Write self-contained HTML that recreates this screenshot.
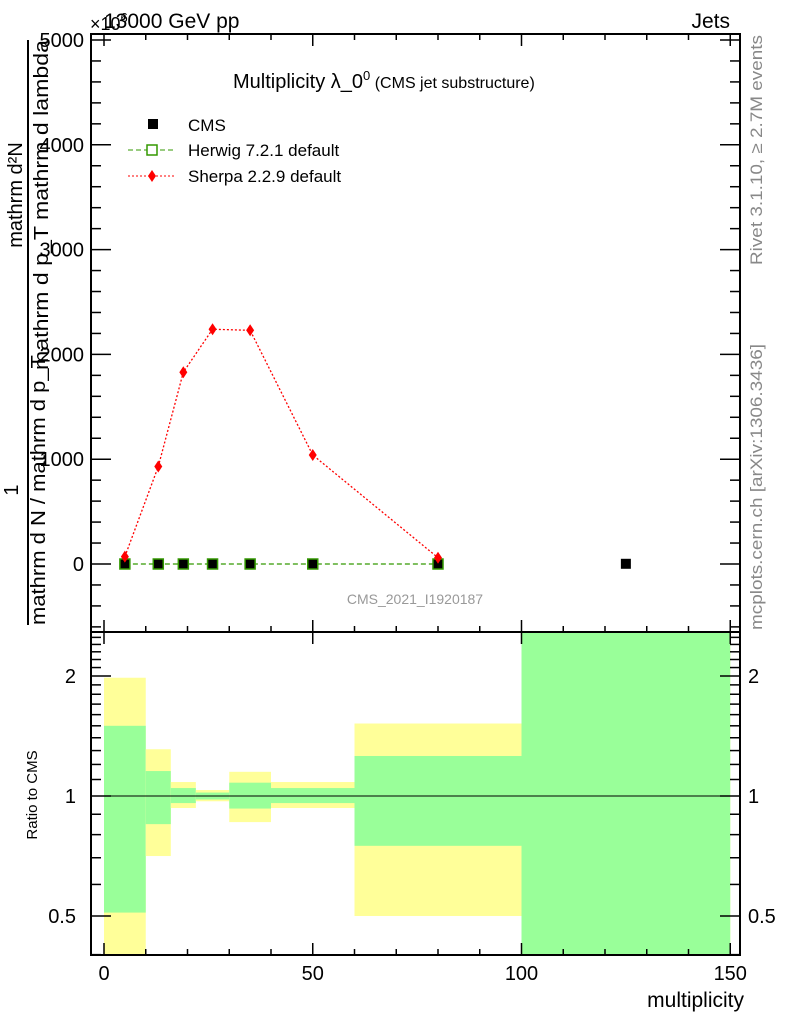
<!DOCTYPE html>
<html><head><meta charset="utf-8"><style>
html,body{margin:0;background:#fff;width:786px;height:1024px;overflow:hidden;position:relative}
svg{display:block;font-family:"Liberation Sans",sans-serif}
</style></head><body>
<svg id="c" width="786" height="1024" viewBox="0 0 786 1024" style="position:absolute;left:0;top:0"></svg>
<script>
const binEdges=[0,10,16,22,30,40,60,100,150];
const binCenters=[5,13,19,26,35,50,80,125];
const cmsValues=[2,2,2,2,2,2,2,2];
const herwigValues=[0,0,0,0,0,0,0];
const sherpaValues=[70,930,1830,2240,2230,1040,60];
const mainYTicks=[0,1000,2000,3000,4000,5000];
const mainYTickLabels=["0","1000","2000","3000","4000","5000"];
const xTicks=[0,50,100,150];
const ratioTicks=[0.5,1,2];
const yellowHi=[1.98,1.31,1.084,1.035,1.15,1.084,1.52,10];
const yellowLo=[0.3,0.707,0.933,0.97,0.86,0.933,0.5,0.1];
const greenHi=[1.5,1.155,1.047,1.02,1.08,1.047,1.26,10];
const greenLo=[0.51,0.85,0.96,0.98,0.93,0.96,0.75,0.1];

const NS="http://www.w3.org/2000/svg";
const svg=document.getElementById('c');
const L=91,R=740,MT=34,MB=632,RB=955;
const sx=v=>104+v*4.175;
const sy=v=>564-v*0.1048;
const ry=v=>796-Math.log2(v)*120;
function el(t,a,p){const e=document.createElementNS(NS,t);for(const k in a)e.setAttribute(k,a[k]);(p||svg).appendChild(e);return e;}
function txt(s,a,p){const e=el('text',a,p);e.textContent=s;return e;}

const clip=el('clipPath',{id:'rc'});el('rect',{x:L,y:MB,width:R-L,height:RB-MB},clip);
const bands=el('g',{'clip-path':'url(#rc)'});


for(let i=0;i<binEdges.length-1;i++){
  const x0=sx(binEdges[i]),x1=sx(binEdges[i+1]);
  const y=el('rect',{x:x0,y:ry(yellowHi[i]),width:x1-x0,height:ry(yellowLo[i])-ry(yellowHi[i]),fill:'#ffff99'},bands);
  
  
  const g=el('rect',{x:x0,y:ry(greenHi[i]),width:x1-x0,height:ry(greenLo[i])-ry(greenHi[i]),fill:'#99ff99'},bands);
  
  
}
el('line',{x1:L,x2:R,y1:ry(1),y2:ry(1),stroke:'#000','stroke-width':1});

el('rect',{x:L,y:MT,width:R-L,height:MB-MT,fill:'none',stroke:'#000','stroke-width':2});
el('rect',{x:L,y:MB,width:R-L,height:RB-MB,fill:'none',stroke:'#000','stroke-width':2});

for(let v=0;v<=150;v+=10){
  const x=sx(v),maj=v%50===0;
  el('line',{x1:x,x2:x,y1:MB,y2:MB-(maj?12:6),stroke:'#000','stroke-width':1.5});
  if(maj) el('line',{x1:x,x2:x,y1:MB,y2:MB+12,stroke:'#000','stroke-width':1.5});
  el('line',{x1:x,x2:x,y1:RB,y2:RB-(maj?12:6),stroke:'#000','stroke-width':1.5});
  el('line',{x1:x,x2:x,y1:MT,y2:MT+(maj?12:6),stroke:'#000','stroke-width':1.5});
}
xTicks.forEach(v=>{const t=txt(String(v),{x:sx(v),y:980,'font-size':20,'text-anchor':'middle'});
});

for(let v=-600;v<=5000;v+=200){
  const y=sy(v),maj=v%1000===0;const len=maj?20:10;
  el('line',{x1:L,x2:L+len,y1:y,y2:y,stroke:'#000','stroke-width':1.5});
  el('line',{x1:R,x2:R-len,y1:y,y2:y,stroke:'#000','stroke-width':1.5});
}
mainYTicks.forEach((v,i)=>{const t=txt(mainYTickLabels[i],{x:84,y:sy(v)+7,'font-size':20,'text-anchor':'end'});
});

for(let v=0.4;v<=2.6;v+=0.1){
  const vv=Math.round(v*10)/10;const y=ry(vv);const maj=ratioTicks.includes(vv);const len=maj?20:10;
  el('line',{x1:L,x2:L+len,y1:y,y2:y,stroke:'#000','stroke-width':1.5});
  el('line',{x1:R,x2:R-len,y1:y,y2:y,stroke:'#000','stroke-width':1.5});
}
ratioTicks.forEach(v=>{
  const a=txt(String(v),{x:76,y:ry(v)+7,'font-size':20,'text-anchor':'end'});
  
  const b=txt(String(v),{x:748,y:ry(v)+7,'font-size':20});
  
});

const hp=herwigValues.map((v,i)=>sx(binCenters[i])+','+sy(v)).join(' ');
const hl=el('polyline',{points:hp,fill:'none',stroke:'#339900','stroke-width':1.2,'stroke-dasharray':'5,3'});

const sp=sherpaValues.map((v,i)=>sx(binCenters[i])+','+sy(v)).join(' ');
const sl=el('polyline',{points:sp,fill:'none',stroke:'#ff0000','stroke-width':1.3,'stroke-dasharray':'2,2'});

cmsValues.forEach((v,i)=>{const x=sx(binCenters[i]),y=sy(v);
  const r=el('rect',{x:x-5,y:y-5,width:10,height:10,fill:'#000'});
  });
herwigValues.forEach((v,i)=>{const x=sx(binCenters[i]),y=sy(v);
  const r=el('rect',{x:x-5,y:y-5,width:10,height:10,fill:'none',stroke:'#339900','stroke-width':1.5});
  });
sherpaValues.forEach((v,i)=>{const x=sx(binCenters[i]),y=sy(v);
  const d=el('polygon',{points:`${x},${y-6} ${x+4},${y} ${x},${y+6} ${x-4},${y}`,fill:'#ff0000'});
  });
</script>
<svg width="786" height="1024" style="position:absolute;left:0;top:0;font-family:'Liberation Sans',sans-serif">
<text x="104" y="28" font-size="21">13000 GeV pp</text>
<text x="90" y="30" font-size="18">×10<tspan dy="-8" font-size="13">6</tspan></text>
<text x="730" y="28" font-size="21" text-anchor="end">Jets</text>
<text x="233" y="88" font-size="20">Multiplicity λ_0<tspan dy="-8" font-size="13">0</tspan><tspan dy="8" font-size="16"> (CMS jet substructure)</tspan></text>
<rect x="148" y="119" width="10" height="10" fill="#000"/>
<text x="188" y="131" font-size="17">CMS</text>
<line x1="128" x2="175" y1="150" y2="150" stroke="#339900" stroke-dasharray="5,3"/>
<rect x="147" y="145" width="10" height="10" fill="#fff" stroke="#339900" stroke-width="1.5"/>
<text x="188" y="156" font-size="17">Herwig 7.2.1 default</text>
<line x1="128" x2="175" y1="176" y2="176" stroke="#ff0000" stroke-dasharray="2,2"/>
<polygon points="152,170 156,176 152,182 148,176" fill="#ff0000"/>
<text x="188" y="182" font-size="17">Sherpa 2.2.9 default</text>
<text x="415" y="604" font-size="14" fill="#999" text-anchor="middle">CMS_2021_I1920187</text>
<text transform="translate(762,265) rotate(-90)" font-size="17" fill="#888" textLength="230" lengthAdjust="spacingAndGlyphs">Rivet 3.1.10, ≥ 2.7M events</text>
<text transform="translate(762,630) rotate(-90)" font-size="17" fill="#888" textLength="286" lengthAdjust="spacingAndGlyphs">mcplots.cern.ch [arXiv:1306.3436]</text>
<text transform="translate(22,195) rotate(-90)" font-size="20" text-anchor="middle">mathrm d²N</text>
<text transform="translate(48,205) rotate(-90)" font-size="20" text-anchor="middle" textLength="330" lengthAdjust="spacingAndGlyphs">mathrm d p_T mathrm d lambda</text>
<line x1="28" x2="28" y1="40" y2="625" stroke="#000" stroke-width="2"/>
<text transform="translate(18,490) rotate(-90)" font-size="20" text-anchor="middle">1</text>
<text transform="translate(45,490) rotate(-90)" font-size="20" text-anchor="middle" textLength="270" lengthAdjust="spacingAndGlyphs">mathrm d N / mathrm d p_T</text>
<text transform="translate(37,795) rotate(-90)" font-size="15" text-anchor="middle">Ratio to CMS</text>
<text x="744" y="1007" font-size="21" text-anchor="end">multiplicity</text>
</svg>
</body></html>
